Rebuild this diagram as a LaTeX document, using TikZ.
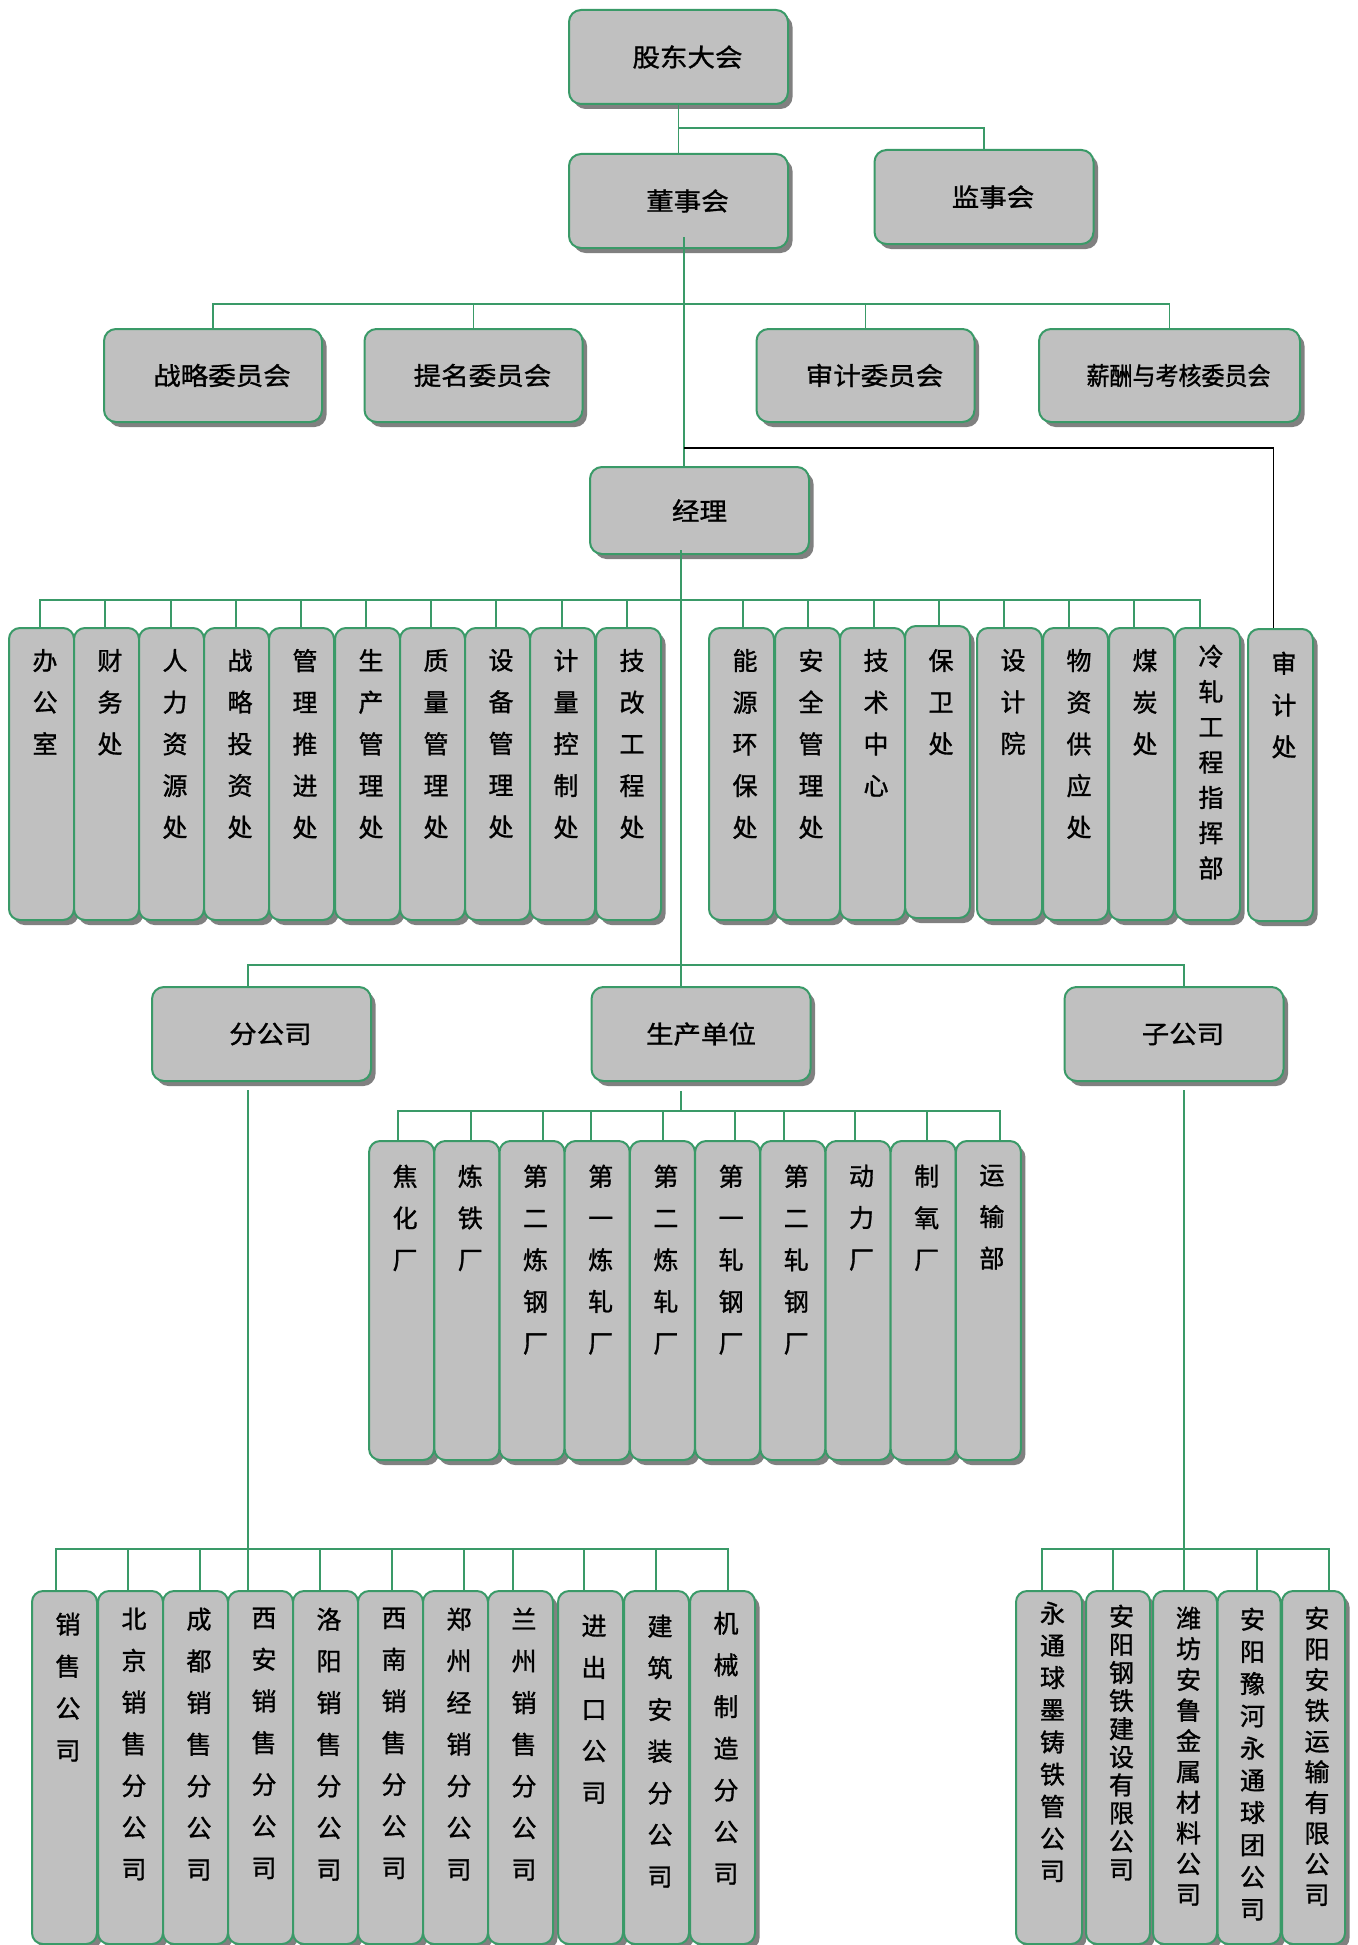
\documentclass[tikz,border=0pt]{standalone}
\usepackage{fontspec}
\usetikzlibrary{shadows}
\newfontfamily\cjkh[FakeStretch=1.1,FakeBold=1.2]{Noto Sans CJK SC}
\newfontfamily\cjkn[FakeStretch=0.92,FakeBold=1.2]{Noto Sans CJK SC}
\newfontfamily\cjkv[FakeBold=1.2]{Noto Sans CJK SC}
\definecolor{bgreen}{RGB}{58,154,104}
\definecolor{boxgray}{RGB}{192,192,192}
\definecolor{shgray}{RGB}{128,128,128}
\newcommand{\vcol}[4]{\hspace*{7pt}\parbox[c][#1pt][t]{56pt}{\centering\fontsize{25pt}{#3pt}\selectfont\vspace*{#2pt}#4\par}}
\tikzset{
  box/.style={draw=bgreen, line width=2pt, fill=boxgray, rounded corners=12pt, inner sep=0pt,
    drop shadow={shadow xshift=4.5pt, shadow yshift=-5pt, fill=shgray, opacity=1}},
  mainbox/.style={box, minimum width=219pt, minimum height=94pt,
    font={\cjkh\fontsize{25pt}{30pt}\selectfont}},
  sh/.style={execute at begin node={\hspace*{18pt}}},
  vbox/.style={box, rounded corners=11pt, anchor=north, minimum width=65pt, font=\cjkv},
  link/.style={draw=bgreen, line width=1.6pt},
  blink/.style={draw=black, line width=1.8pt}
}
\begin{document}
\begin{tikzpicture}[x=1pt,y=-1pt]
\fill[white] (0,0) rectangle (1357,1945);
\useasboundingbox (0,0) rectangle (1357,1945);

% top level
\node[mainbox, sh] (gd) at (678.5,57) {股东大会};
\node[mainbox, sh] (dsh) at (678.5,201) {董事会};
\node[mainbox, sh] (jsh) at (984,197) {监事会};
\node[mainbox, sh, minimum width=218pt, minimum height=93pt] (zl) at (213,375.5) {战略委员会};
\node[mainbox, sh, minimum width=218pt, minimum height=93pt] (tm) at (473.5,375.5) {提名委员会};
\node[mainbox, sh, minimum width=218pt, minimum height=93pt] (sj) at (865.5,375.5) {审计委员会};
\node[mainbox, sh, minimum width=261pt, minimum height=93pt, font={\cjkn\fontsize{25pt}{30pt}\selectfont}] (xc) at (1169.5,375.5) {薪酬与考核委员会};
\node[mainbox, minimum height=87pt] (jl) at (699.5,510.5) {经理};

% departments under manager
\node[vbox] (d1) at (41.5,627) {\vcol{292}{21}{41.7}{办\\公\\室}};
\node[vbox] (d2) at (106.5,627) {\vcol{292}{21}{41.7}{财\\务\\处}};
\node[vbox] (d3) at (171.5,627) {\vcol{292}{21}{41.7}{人\\力\\资\\源\\处}};
\node[vbox] (d4) at (236.5,627) {\vcol{292}{21}{41.7}{战\\略\\投\\资\\处}};
\node[vbox] (d5) at (301.5,627) {\vcol{292}{21}{41.7}{管\\理\\推\\进\\处}};
\node[vbox] (d6) at (367.5,627) {\vcol{292}{21}{41.7}{生\\产\\管\\理\\处}};
\node[vbox] (d7) at (432.5,627) {\vcol{292}{21}{41.7}{质\\量\\管\\理\\处}};
\node[vbox] (d8) at (497.5,627) {\vcol{292}{21}{41.7}{设\\备\\管\\理\\处}};
\node[vbox] (d9) at (562.5,627) {\vcol{292}{21}{41.7}{计\\量\\控\\制\\处}};
\node[vbox] (d10) at (628.5,627) {\vcol{292}{21}{41.7}{技\\改\\工\\程\\处}};
\node[vbox] (r1) at (741.5,627) {\vcol{292}{21}{41.7}{能\\源\\环\\保\\处}};
\node[vbox] (r2) at (807.5,627) {\vcol{292}{21}{41.7}{安\\全\\管\\理\\处}};
\node[vbox] (r3) at (872.5,627) {\vcol{292}{21}{41.7}{技\\术\\中\\心}};
\node[vbox] (r4) at (937.5,625) {\vcol{292}{23}{41.7}{保\\卫\\处}};
\node[vbox] (r5) at (1009.5,627) {\vcol{292}{21}{41.7}{设\\计\\院}};
\node[vbox] (r6) at (1075.5,627) {\vcol{292}{21}{41.7}{物\\资\\供\\应\\处}};
\node[vbox] (r7) at (1141.5,627) {\vcol{292}{21}{41.7}{煤\\炭\\处}};
\node[vbox] (r8) at (1207.5,627) {\vcol{292}{16.7}{35.3}{冷\\轧\\工\\程\\指\\挥\\部}};
\node[vbox] (sjc) at (1280.5,628) {\vcol{292}{22.7}{41.7}{审\\计\\处}};

% three units
\node[mainbox, sh] (fgs) at (261.5,1034) {分公司};
\node[mainbox] (scdw) at (701,1034) {生产单位};
\node[mainbox, sh] (zgs) at (1174,1034) {子公司};

% production units
\node[vbox] (p1) at (401.6,1140) {\vcol{319}{23.7}{41.7}{焦\\化\\厂}};
\node[vbox] (p2) at (466.8,1140) {\vcol{319}{23.7}{41.7}{炼\\铁\\厂}};
\node[vbox] (p3) at (532,1140) {\vcol{319}{23.7}{41.7}{第\\二\\炼\\钢\\厂}};
\node[vbox] (p4) at (597.2,1140) {\vcol{319}{23.7}{41.7}{第\\一\\炼\\轧\\厂}};
\node[vbox] (p5) at (662.4,1140) {\vcol{319}{23.7}{41.7}{第\\二\\炼\\轧\\厂}};
\node[vbox] (p6) at (727.6,1140) {\vcol{319}{23.7}{41.7}{第\\一\\轧\\钢\\厂}};
\node[vbox] (p7) at (792.8,1140) {\vcol{319}{23.7}{41.7}{第\\二\\轧\\钢\\厂}};
\node[vbox] (p8) at (858,1140) {\vcol{319}{23.7}{41.7}{动\\力\\厂}};
\node[vbox] (p9) at (923.2,1140) {\vcol{319}{23.7}{41.7}{制\\氧\\厂}};
\node[vbox] (p10) at (988.4,1140) {\vcol{319}{23.7}{41.7}{运\\输\\部}};

% branch companies
\node[vbox] (b1) at (64.5,1590) {\vcol{353}{21.7}{42}{销\\售\\公\\司}};
\node[vbox] (b2) at (130.5,1590) {\vcol{353}{16.7}{41.7}{北\\京\\销\\售\\分\\公\\司}};
\node[vbox] (b3) at (195.5,1590) {\vcol{353}{16.7}{41.7}{成\\都\\销\\售\\分\\公\\司}};
\node[vbox] (b4) at (260.5,1590) {\vcol{353}{16.7}{41.7}{西\\安\\销\\售\\分\\公\\司}};
\node[vbox] (b5) at (325.5,1590) {\vcol{353}{16.7}{41.7}{洛\\阳\\销\\售\\分\\公\\司}};
\node[vbox] (b6) at (390.5,1590) {\vcol{353}{16.7}{41.7}{西\\南\\销\\售\\分\\公\\司}};
\node[vbox] (b7) at (455.5,1590) {\vcol{353}{16.7}{41.7}{郑\\州\\经\\销\\分\\公\\司}};
\node[vbox] (b8) at (520.5,1590) {\vcol{353}{16.7}{41.7}{兰\\州\\销\\售\\分\\公\\司}};
\node[vbox] (b9) at (590.5,1590) {\vcol{353}{23.7}{41.7}{进\\出\\口\\公\\司}};
\node[vbox] (b10) at (656.5,1590) {\vcol{353}{23.7}{41.7}{建\\筑\\安\\装\\分\\公\\司}};
\node[vbox] (b11) at (722.5,1590) {\vcol{353}{20.7}{41.7}{机\\械\\制\\造\\分\\公\\司}};

% subsidiaries
\node[vbox, minimum width=66pt] (c1) at (1049,1590) {\vcol{353}{10.7}{32.2}{永\\通\\球\\墨\\铸\\铁\\管\\公\\司}};
\node[vbox, minimum width=64pt] (c2) at (1118,1590) {\vcol{353}{13.7}{28.1}{安\\阳\\钢\\铁\\建\\设\\有\\限\\公\\司}};
\node[vbox, minimum width=64pt] (c3) at (1185,1590) {\vcol{353}{15.7}{30.7}{潍\\坊\\安\\鲁\\金\\属\\材\\料\\公\\司}};
\node[vbox, minimum width=62pt] (c4) at (1249,1590) {\vcol{353}{16.7}{32.2}{安\\阳\\豫\\河\\永\\通\\球\\团\\公\\司}};
\node[vbox, minimum width=63pt] (c5) at (1313.5,1590) {\vcol{353}{15.7}{30.7}{安\\阳\\安\\铁\\运\\输\\有\\限\\公\\司}};

% ---------------- connectors ----------------
\draw[link] (gd.south) -- (dsh.north);
\draw[link] ([yshift=-23pt]gd.south) -| (jsh.north);

\coordinate (t0) at (684,237);
\draw[link] (t0) -- (t0 |- jl.north);
\draw[link] (zl.north) -- ++(0,-24) -| (xc.north);
\draw[link] (tm.north) -- ++(0,-24);
\draw[link] (sj.north) -- ++(0,-24);

\coordinate (bk) at (684,448);
\draw[blink] (bk) -| ([xshift=-7pt]sjc.north);

\coordinate (t1) at (681,550);
\draw[link] (t1) -- (t1 |- scdw.north);
\draw[link] ([xshift=-1.5pt]d1.north) -- ++(0,-27) -| ([xshift=-7.5pt]r8.north);
\foreach \n/\dx in {d2/-1.5,d3/-0.5,d4/-0.5,d5/-0.5,d6/-1.5,d7/-1.5,d8/-1.5,d9/-0.5,d10/-1.5,r1/1.5,r2/0.5,r3/1.5,r5/-5.5,r6/-6.5,r7/-7.5}
  \draw[link] ([xshift=\dx pt]\n.north) -- ++(0,-27);
\draw[link] ([xshift=1.5pt]r4.north) -- ++(0,-25);

\draw[link] ([xshift=-13.5pt]fgs.north) -- ++(0,-21) -| ([xshift=10pt]zgs.north);

\coordinate (t2) at (681,1091);
\draw[link] (t2) -- ++(0,20);
\draw[link] ([xshift=-3.6pt]p1.north) -- ++(0,-29) -| ([xshift=11.6pt]p10.north);
\foreach \n/\dx in {p2/4.2,p3/11,p4/-6.2,p5/0.6,p6/7.4,p7/-8.8,p8/-3,p9/3.8}
  \draw[link] ([xshift=\dx pt]\n.north) -- ++(0,-29);

\coordinate (t3) at (248,1090);
\draw[link] (t3) -- ++(0,459);
\draw[link] ([xshift=-8.5pt]b1.north) -- ++(0,-41) -| ([xshift=5.5pt]b11.north);
\foreach \n/\dx in {b2/-2.5,b3/4.5,b4/-12.5,b5/-5.5,b6/1.5,b7/8.5,b8/-7.5,b9/-6.5,b10/-0.5}
  \draw[link] ([xshift=\dx pt]\n.north) -- ++(0,-41);

\coordinate (t4) at (1184,1090);
\draw[link] (t4) -- ++(0,459);
\draw[link] ([xshift=-7pt]c1.north) -- ++(0,-41) -| ([xshift=15.5pt]c5.north);
\foreach \n/\dx in {c2/-5,c3/-1,c4/8}
  \draw[link] ([xshift=\dx pt]\n.north) -- ++(0,-41);
\end{tikzpicture}
\end{document}
